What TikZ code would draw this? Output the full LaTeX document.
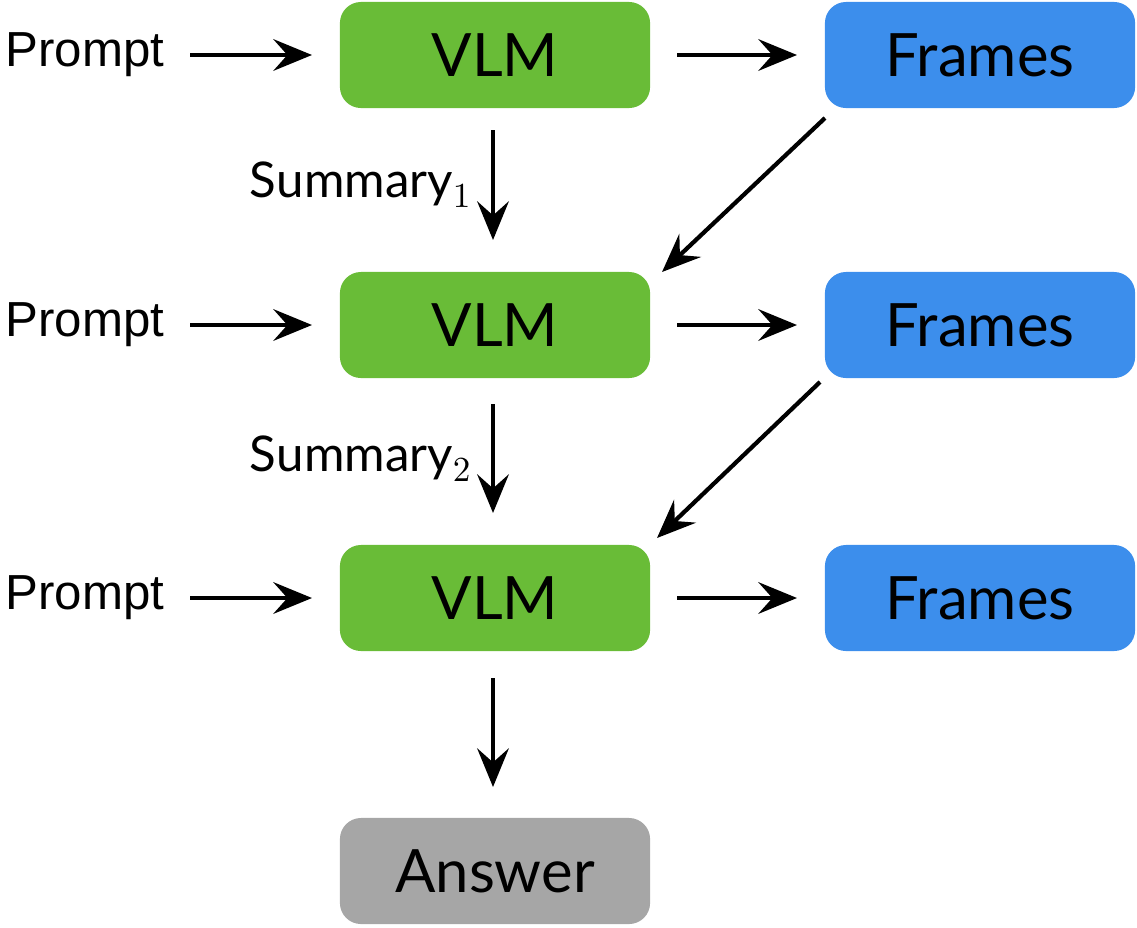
\documentclass[tikz,border=0pt]{standalone}
\usepackage{fontspec}
\setmainfont{Lato}
\newfontfamily\promptfont{Liberation Sans}
\usetikzlibrary{arrows.meta, positioning, calc}
\definecolor{vlmgreen}{HTML}{69BC37}
\definecolor{framesblue}{HTML}{3C8EEC}
\definecolor{answergray}{HTML}{A6A6A6}
\tikzset{
  box/.style={rounded corners=6pt, minimum width=3.1cm, minimum height=1.06cm,
    inner sep=0pt, font=\fontsize{17}{20}\selectfont},
  vlm/.style={box, fill=vlmgreen},
  frames/.style={box, fill=framesblue},
  answer/.style={box, fill=answergray},
  prompt/.style={font=\promptfont\fontsize{14}{16}\selectfont, inner sep=0pt},
  flow/.style={-{Stealth[length=11pt, width=9pt, inset=4pt]}, line width=1.2pt}
}
\begin{document}
\begin{tikzpicture}[x=0.01cm, y=-0.01cm]
  \useasboundingbox (0,0) rectangle (1137,927);
  % three rounds of the loop
  \foreach \i/\y in {1/55, 2/325, 3/598}{
    \node[prompt] (prompt\i) at (85,\y) {Prompt};
    \node[vlm] (vlm\i) at (495,\y) {VLM};
    \node[frames] (frames\i) at (980,\y) {Frames};
    \coordinate (pin\i) at (312,\y);
    \coordinate (pout\i) at (190,\y);
    \coordinate (fin\i) at (797,\y);
    \coordinate (fout\i) at (677,\y);
    \draw[flow] (pout\i) -- (pin\i);
    \draw[flow] (fout\i) -- (fin\i);
  }
  \node[answer] (answer) at (495,871) {Answer};
  % summaries passed down
  \coordinate (s1a) at (493,130); \coordinate (s1b) at (493,240);
  \coordinate (s2a) at (493,404); \coordinate (s2b) at (493,513);
  \coordinate (s3a) at (493,678); \coordinate (s3b) at (493,787);
  \draw[flow] (s1a) -- (s1b) node[midway, left=2pt, font=\fontsize{14}{16}\selectfont] {$\mathrm{Summary}_1$};
  \draw[flow] (s2a) -- (s2b) node[midway, left=2pt, font=\fontsize{14}{16}\selectfont] {$\mathrm{Summary}_2$};
  \draw[flow] (s3a) -- (s3b);
  % frames fed back
  \coordinate (d1a) at (825,118); \coordinate (d1b) at (662,272);
  \coordinate (d2a) at (820,382); \coordinate (d2b) at (657,538);
  \draw[flow] (d1a) -- (d1b);
  \draw[flow] (d2a) -- (d2b);
\end{tikzpicture}
\end{document}
